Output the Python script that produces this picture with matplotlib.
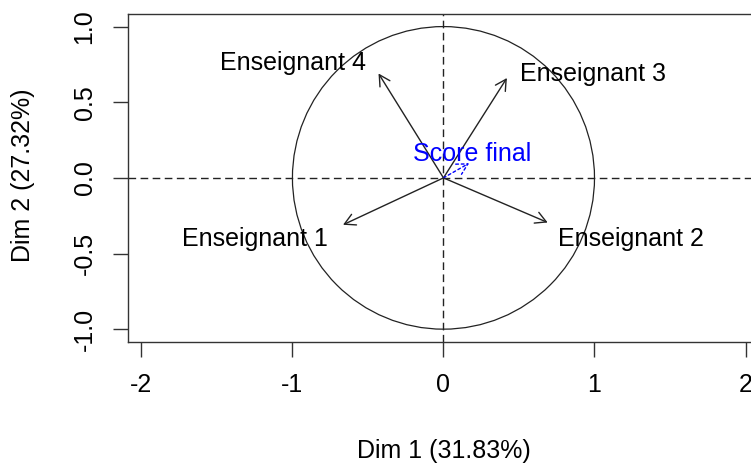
import matplotlib
matplotlib.use("Agg")
import matplotlib.pyplot as plt
from matplotlib.patches import Circle, FancyArrowPatch

plt.rcParams['font.family'] = ['Liberation Sans', 'DejaVu Sans']

# Variable coordinates on the first two dimensions
variables = ["Enseignant 1", "Enseignant 2", "Enseignant 3", "Enseignant 4"]
dim1 = [-0.665, 0.69, 0.42, -0.43]
dim2 = [-0.31, -0.295, 0.66, 0.69]

# Supplementary variable
supp_name = "Score final"
supp_dim1 = 0.17
supp_dim2 = 0.097

x_ticks = [-2, -1, 0, 1, 2]
y_ticks = [-1.0, -0.5, 0.0, 0.5, 1.0]
x_label = "Dim 1 (31.83%)"
y_label = "Dim 2 (27.32%)"

FS = 18
INK = "#222222"

fig = plt.figure(figsize=(7.51, 4.66), dpi=100)
ax = fig.add_axes([0.1708, 0.2667, 0.8394, 0.7032])
ax.set_xlim(-2.087, 2.087)
ax.set_ylim(-1.083, 1.083)

# reference lines and unit circle
ax.axhline(0, color=INK, lw=1.0, dashes=(5.5, 3.2))
ax.axvline(0, color=INK, lw=1.0, dashes=(5.5, 3.2))
ax.add_patch(Circle((0, 0), 1, fill=False, color=INK, lw=0.9))

# label placement (pixel offsets from arrow tip, horizontal alignment)
label_style = {
    "Enseignant 1": ((-15, -21), "right"),
    "Enseignant 2": ((10, -23), "left"),
    "Enseignant 3": ((13, -3), "left"),
    "Enseignant 4": ((-13, 3), "right"),
}

for name, x, y in zip(variables, dim1, dim2):
    arr = FancyArrowPatch((0, 0), (x, y), arrowstyle="->,head_length=0.55,head_width=0.3",
                          mutation_scale=14, color=INK, lw=1.0, shrinkA=0, shrinkB=0)
    ax.add_patch(arr)
    (dx, dy), ha = label_style[name]
    ax.annotate(name, xy=(x, y), xytext=(dx, dy), textcoords="offset pixels",
                ha=ha, va="baseline", fontsize=FS, color="black")

arr = FancyArrowPatch((0, 0), (supp_dim1, supp_dim2), arrowstyle="->,head_length=0.55,head_width=0.3",
                      mutation_scale=14, color="blue", lw=1.0, linestyle=(0, (2, 2)),
                      shrinkA=0, shrinkB=0)
ax.add_patch(arr)
ax.annotate(supp_name, xy=(supp_dim1, supp_dim2), xytext=(3, 2), textcoords="offset pixels",
            ha="center", va="baseline", fontsize=FS, color="blue")

# axes in base-graphics style
for sp in ax.spines.values():
    sp.set_color("#333333")
    sp.set_linewidth(1.0)
ax.set_xticks(x_ticks)
ax.set_xticklabels([str(v) for v in x_ticks])
ax.set_yticks(y_ticks)
ax.set_yticklabels([f"{v:.1f}" for v in y_ticks])
ax.tick_params(axis="both", direction="out", length=10.8, width=1.0, color="#333333",
               labelsize=FS, pad=12)
for lab in ax.get_yticklabels():
    lab.set_rotation(90)
    lab.set_va("center")
    lab.set_ha("right")

fig.text(443.5 / 751, 1 - 451 / 466, x_label, ha="center", va="center", fontsize=FS)
fig.text(23 / 751, 1 - 175 / 466, y_label, ha="center", va="center", fontsize=FS, rotation=90)

fig.savefig("out.png", dpi=100)
